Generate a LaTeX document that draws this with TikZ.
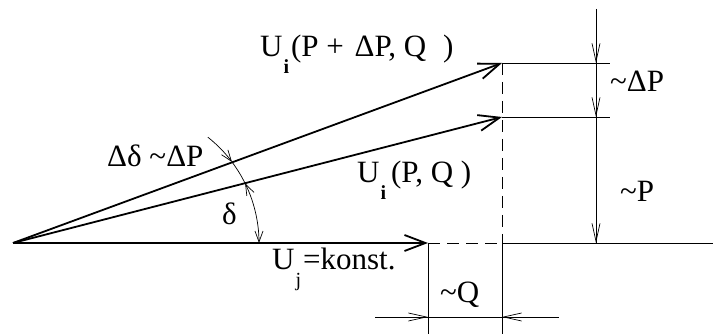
\documentclass[tikz,border=0pt]{standalone}
\usepackage{fontspec}
\setmainfont{Liberation Serif}
\usetikzlibrary{arrows.meta,positioning}

\newcommand{\indice}[1]{\hspace{1pt}\raisebox{-17pt}{\fontsize{20}{20}\selectfont #1}\hspace{2pt}}
\newcommand{\env}{\textasciitilde}

\begin{document}
\begin{tikzpicture}[
    x=1pt, y=1pt,
    vecteur/.style={
        -{Straight Barb[length=21pt,width=16pt]},
        line width=1.8pt
    },
    trait/.style={
        line width=0.8pt
    },
    tirets/.style={
        line width=0.8pt,
        dash pattern=on 12pt off 7pt
    },
    cote/.style={
        line width=0.7pt,
        -{Straight Barb[length=18pt,width=8pt]}
    },
    angle/.style={
        line width=0.7pt
    },
    fleche/.style={
        -{Straight Barb[length=11pt,width=8pt]}
    },
    etiquette/.style={
        anchor=base west,
        inner sep=0pt,
        font=\fontsize{31}{33}\selectfont
    }
]
\useasboundingbox (0,0) rectangle (713,334);

% Points
\coordinate (O) at (13,91);
\coordinate (Ua) at (502,271);
\coordinate (Ub) at (502,217);
\coordinate (Uj) at (428,91);
\coordinate (C) at (124,91);

% Construction lines
\draw[tirets] (Ua) -- (502,91);
\draw[tirets] (Uj) -- (502,91);
\draw[trait] (502,91) -- (713,91);
\draw[trait] (502,91) -- (502,0);
\draw[trait] (Uj) -- (428,0);
\draw[trait] (Ua) -- (610,271);
\draw[trait] (Ub) -- (610,217);

% Vectors
\draw[vecteur] (O) -- (Ua);
\draw[vecteur] (O) -- (Ub);
\draw[vecteur] (O) -- (Uj);

% Dimension ~P and ~DeltaP
\coordinate (dA) at (596,271);
\coordinate (dB) at (596,217);
\coordinate (dC) at (596,91);
\draw[trait] (596,325) -- (dC);
\draw[cote] (596,300) -- (dA);
\draw[cote] (596,250) -- (dB);
\draw[cote] (596,120) -- (dC);

% Dimension ~Q
\coordinate (qA) at (428,17);
\coordinate (qB) at (502,17);
\draw[trait] (375,17) -- (559,17);
\draw[cote] (400,17) -- (qA);
\draw[cote] (530,17) -- (qB);

% Angles
\draw[angle, fleche] (C) ++(51.6:135pt) arc[start angle=51.6, end angle=36.9, radius=135pt];
\draw[angle] (C) ++(36.9:135pt) arc[start angle=36.9, end angle=26.2, radius=135pt];
\draw[angle, fleche] (C) ++(14:135pt) arc[start angle=14, end angle=26.2, radius=135pt];
\draw[angle, fleche] (C) ++(14:135pt) arc[start angle=14, end angle=0, radius=135pt];

% Labels
\node[etiquette] (la) at (260,277) {U\indice{\bfseries i}(P + \hspace{3pt}ΔP, Q\hspace{9pt} )};
\node[etiquette] (lb) at (357,151) {U\indice{\bfseries i}\hspace{3pt}(P, Q )};
\node[etiquette] (lj) at (272,64) {U\indice{j}=konst.};
\node[etiquette] (ldd) at (107,167) {Δδ \env ΔP};
\node[etiquette] (ld) at (222,109) {δ};
\node[etiquette] (ldp) at (610,242) {\env ΔP};
\node[etiquette] (lp) at (620,132) {\env P};
\node[etiquette] (lq) at (440,31) {\env Q};

\end{tikzpicture}
\end{document}
